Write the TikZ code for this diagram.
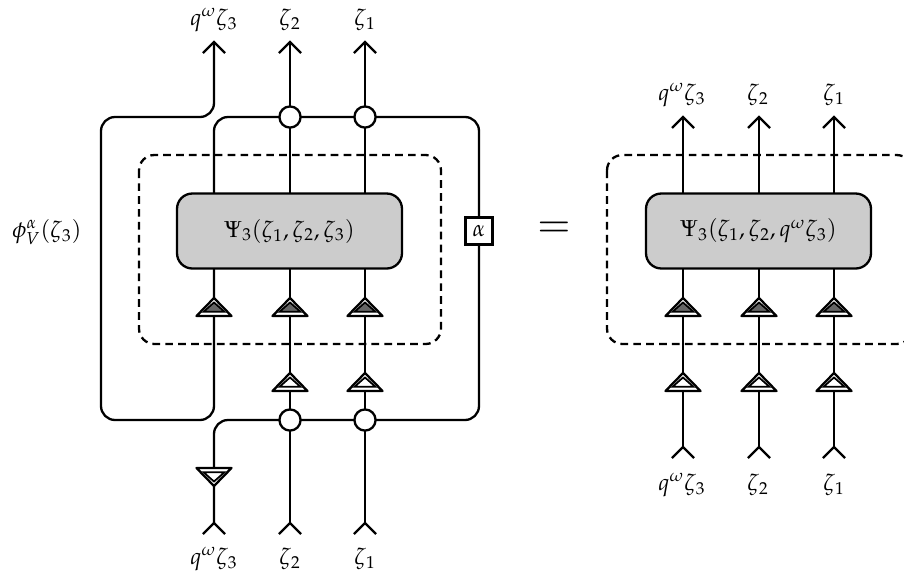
\documentclass[tikz,border=0pt]{standalone}
\usepackage{mathpazo}
\usetikzlibrary{backgrounds}
\tikzset{
  x=0.52pt,y=-0.52pt,
  wire/.style={line width=1.2pt,rounded corners=7.3pt},
  dashbox/.style={line width=1.2pt,dashed,dash pattern=on 4pt off 2.7pt,rounded corners=8pt},
  graybox/.style={draw,line width=1.2pt,fill=black!20,rounded corners=8pt,minimum width=117pt,minimum height=39pt,inner sep=0pt,outer sep=0pt,font=\fontsize{12}{14}\selectfont},
  vertex/.style={circle,draw,line width=1.2pt,fill=white,minimum size=11pt,inner sep=0pt,outer sep=0pt},
  alphabox/.style={draw,line width=1.2pt,fill=white,minimum size=14pt,inner sep=0pt,outer sep=0pt,font=\fontsize{12}{14}\selectfont},
  lab/.style={inner sep=0pt,font=\fontsize{12}{14}\selectfont},
  eqlab/.style={inner sep=0pt,font=\fontsize{21}{23}\selectfont},
  fork/.pic={\draw[line width=1.2pt,line join=miter] (-11,11) -- (0,0) -- (11,11);},
  tri/.pic={
    \draw[line width=1.2pt,line join=round,fill=white] (-17.5,0) -- (0,-18) -- (17.5,0) -- cycle;
    \draw[line width=0.9pt,line join=miter,fill=#1] (-10.5,-4.2) -- (0,-13.5) -- (10.5,-4.2) -- cycle;
  },
  tridown/.pic={
    \draw[line width=1.2pt,line join=round,fill=white] (-17.5,0) -- (0,18) -- (17.5,0) -- cycle;
    \draw[line width=0.9pt,line join=miter,fill=#1] (-10.5,4.2) -- (0,13.5) -- (10.5,4.2) -- cycle;
  },
}
\begin{document}
\begin{tikzpicture}
\useasboundingbox (0,0) rectangle (904,579);
\node[graybox] (psiL) at (289.5,231) {$\Psi_3(\zeta_1,\zeta_2,\zeta_3)$};
\node[graybox] (psiR) at (758.5,231) {$\Psi_3(\zeta_1,\zeta_2,q^\omega\zeta_3)$};
\node[vertex] (vtb) at (290,117) {};
\node[vertex] (vta) at (365,117) {};
\node[vertex] (vbb) at (290,420) {};
\node[vertex] (vba) at (365,420) {};
\node[alphabox] (alpha) at (479,231) {$\alpha$};
\coordinate (topq) at (214,42);
\coordinate (topb) at (290,42);
\coordinate (topa) at (365,42);
\coordinate (botq) at (214,523);
\coordinate (botb) at (290,523);
\coordinate (bota) at (365,523);
\coordinate (rtq) at (683,117);
\coordinate (rtb) at (759,117);
\coordinate (rta) at (834,117);
\coordinate (rbq) at (683,447);
\coordinate (rbb) at (759,447);
\coordinate (rba) at (834,447);
\begin{scope}[on background layer]
\draw[dashbox] (139,155) rectangle (441,344);
\draw[dashbox] (607,155) rectangle (912,344);
\draw[wire] (topq) -- (214,117) -- (101,117) -- (101,420) -- (214,420) -- (psiL.south -| topq);
\draw[wire] (psiL.north -| topq) -- (214,117) -- (vtb) (vtb) -- (vta) (vta) -- (479,117) -- (alpha.north);
\draw[wire] (alpha.south) -- (479,420) -- (vba) (vba) -- (vbb) (vbb) -- (214,420) -- (botq);
\draw[wire] (topb) -- (vtb) -- (psiL.north -| vtb);
\draw[wire] (topa) -- (vta) -- (psiL.north -| vta);
\draw[wire] (psiL.south -| vtb) -- (vbb) -- (botb);
\draw[wire] (psiL.south -| vta) -- (vba) -- (bota);
\draw[wire] (rtq) -- (psiR.north -| rtq) (psiR.south -| rtq) -- (rbq);
\draw[wire] (rtb) -- (psiR.north -| rtb) (psiR.south -| rtb) -- (rbb);
\draw[wire] (rta) -- (psiR.north -| rta) (psiR.south -| rta) -- (rba);
\end{scope}
\foreach \c in {topq,topb,topa,rtq,rtb,rta,botq,botb,bota,rbq,rbb,rba}
  \pic at (\c) {fork};
\foreach \x in {214,290,365,683,759,834}
  \pic at (\x,316) {tri=black!60};
\foreach \x in {290,365,683,759,834}
  \pic at (\x,391) {tri=white};
\pic at (214,468) {tridown=white};
\node[lab] (lq) at (214,20) {$q^\omega\zeta_3$};
\node[lab] (lb) at (290,20) {$\zeta_2$};
\node[lab] (la) at (365,20) {$\zeta_1$};
\node[lab] (lq2) at (214,559) {$q^\omega\zeta_3$};
\node[lab] (lb2) at (290,559) {$\zeta_2$};
\node[lab] (la2) at (365,559) {$\zeta_1$};
\node[lab] (rq) at (682,95) {$q^\omega\zeta_3$};
\node[lab] (rb) at (758,95) {$\zeta_2$};
\node[lab] (ra) at (834,95) {$\zeta_1$};
\node[lab] (rq2) at (682,485) {$q^\omega\zeta_3$};
\node[lab] (rb2) at (758,485) {$\zeta_2$};
\node[lab] (ra2) at (834,485) {$\zeta_1$};
\node[lab] (phi) at (47,232) {$\phi_V^\alpha(\zeta_3)$};
\node[eqlab] (eq) at (554,230) {$=$};
\end{tikzpicture}
\end{document}
